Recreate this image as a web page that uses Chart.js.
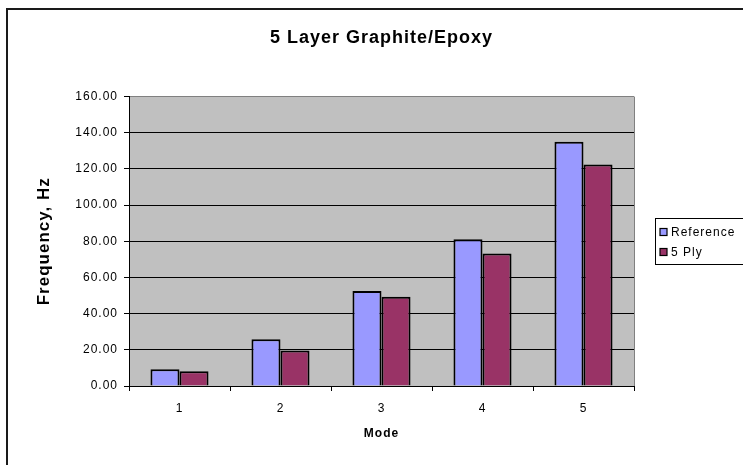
<!DOCTYPE html>
<html>
<head>
<meta charset="utf-8">
<title>5 Layer Graphite/Epoxy</title>
<script src="https://cdn.jsdelivr.net/npm/chart.js@4/dist/chart.umd.min.js"></script>
<style>
  html, body { margin: 0; padding: 0; background: #fff; }
  #wrap { width: 743px; height: 465px; position: relative; }
</style>
</head>
<body>
<div id="wrap"><canvas id="c" width="743" height="465"></canvas></div>
<script>
// Natural frequencies per vibration mode
const modes = ['1', '2', '3', '4', '5'];
const referenceHz = [9.25, 25.9, 52.5, 81.1, 135.1];
const fivePlyHz = [8.1, 19.6, 49.3, 73.2, 122.5];
const seriesNames = ['Reference', '5 Ply'];
const yTicks = [0, 20, 40, 60, 80, 100, 120, 140, 160];

const FONT = '"Liberation Sans", Arial, sans-serif';

// Chart frame, grey plot background, plot border and a boxed legend
const framePlugin = {
  id: 'frame',
  beforeUpdate(chart) { chart.ctx.letterSpacing = '1px'; },
  beforeDraw(chart) {
    const ctx = chart.ctx, a = chart.chartArea;
    ctx.save();
    ctx.fillStyle = '#ffffff';
    ctx.fillRect(0, 0, chart.width, chart.height);
    ctx.strokeStyle = '#1a1a1a';
    ctx.lineWidth = 2;
    ctx.beginPath();
    ctx.moveTo(7, chart.height + 2);
    ctx.lineTo(7, 9);
    ctx.lineTo(chart.width + 2, 9);
    ctx.stroke();
    ctx.fillStyle = '#c0c0c0';
    ctx.fillRect(a.left, a.top, a.right - a.left, a.bottom - a.top);
    ctx.restore();
    ctx.letterSpacing = '1px';
  },
  afterDatasetsDraw(chart) {
    const ctx = chart.ctx, a = chart.chartArea;
    ctx.save();
    ctx.strokeStyle = '#808080';
    ctx.lineWidth = 1;
    ctx.beginPath();
    ctx.moveTo(a.right + 0.5, a.top);
    ctx.lineTo(a.right + 0.5, a.bottom);
    ctx.stroke();
    ctx.restore();
  },
  afterDraw(chart) {
    const ctx = chart.ctx;
    const bx = 655, by = 218, bw = 100, bh = 46;
    ctx.save();
    ctx.letterSpacing = '1px';
    ctx.strokeStyle = '#000';
    ctx.lineWidth = 1;
    ctx.strokeRect(bx + 0.5, by + 0.5, bw, bh);
    ctx.font = '12px ' + FONT;
    ctx.textBaseline = 'middle';
    chart.data.datasets.forEach((ds, i) => {
      const cy = by + 14 + i * 20;
      ctx.fillStyle = ds.backgroundColor;
      ctx.fillRect(660, cy - 3.5, 7, 7);
      ctx.strokeStyle = '#000';
      ctx.lineWidth = 1.2;
      ctx.strokeRect(660, cy - 3.5, 7, 7);
      ctx.fillStyle = '#000';
      ctx.fillText(ds.label, 671, cy + 1);
    });
    ctx.restore();
  }
};

new Chart(document.getElementById('c'), {
  type: 'bar',
  data: {
    labels: modes,
    datasets: [
      { label: seriesNames[0], data: referenceHz, backgroundColor: '#9999ff',
        borderColor: '#000', borderWidth: 2 },
      { label: seriesNames[1], data: fivePlyHz, backgroundColor: '#993366',
        borderColor: '#000', borderWidth: 2 }
    ]
  },
  options: {
    responsive: false,
    animation: false,
    devicePixelRatio: 1,
    layout: { padding: { left: 0, right: 109, top: 0, bottom: 0 } },
    datasets: { bar: { categoryPercentage: 0.575, barPercentage: 1.0 } },
    plugins: {
      legend: { display: false },
      tooltip: { enabled: false },
      title: {
        display: true,
        fullSize: false,
        text: '5 Layer Graphite/Epoxy',
        color: '#000',
        font: { family: FONT, size: 18, weight: 'bold', lineHeight: 1.2 },
        padding: { top: 27, bottom: 48 }
      }
    },
    scales: {
      x: {
        afterFit(s) { s.height = 79; },
        grid: { drawOnChartArea: false, drawTicks: true, tickLength: 5,
                tickColor: '#000', offset: true },
        border: { color: '#000', width: 1 },
        ticks: { color: '#000', padding: 10,
                 font: { family: FONT, size: 12 } },
        title: { display: true, text: 'Mode', color: '#000',
                 font: { family: FONT, size: 12, weight: 'bold', lineHeight: 1.2 },
                 padding: { top: 0, bottom: 24 } }
      },
      y: {
        min: 0, max: 160,
        afterFit(s) { s.width = 129; },
        afterBuildTicks(s) { s.ticks = yTicks.map(v => ({ value: v })); },
        grid: {
          color: ctx => (ctx.tick && ctx.tick.value === 160) ? '#808080' : '#000',
          lineWidth: 1, tickLength: 5, tickColor: '#000'
        },
        border: { color: '#000', width: 1 },
        ticks: { color: '#000', padding: 6,
                 font: { family: FONT, size: 12 },
                 callback: v => Number(v).toFixed(2) },
        title: { display: true, text: 'Frequency, Hz', color: '#000',
                 font: { family: FONT, size: 17, weight: 'bold', lineHeight: 1.2 },
                 padding: { top: 34, bottom: 0 } }
      }
    }
  },
  plugins: [framePlugin]
});
</script>
</body>
</html>
